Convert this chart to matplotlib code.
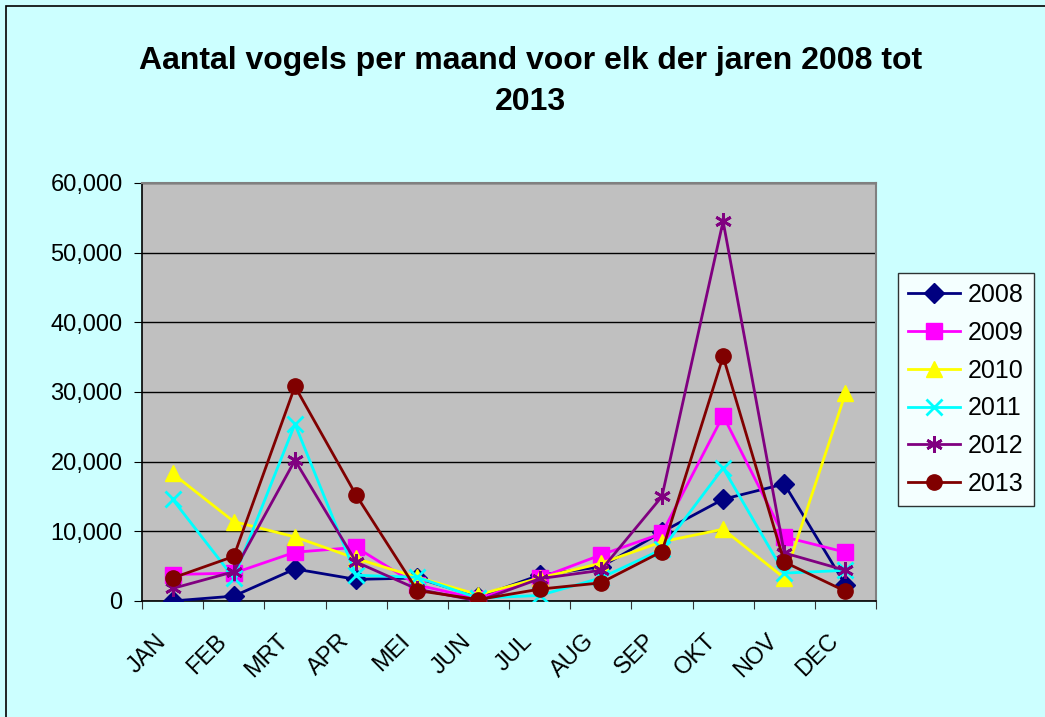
import numpy as np
import matplotlib.pyplot as plt
from matplotlib.ticker import FuncFormatter, FixedLocator
from matplotlib.patches import Rectangle
from matplotlib.transforms import ScaledTranslation

maanden = ['JAN', 'FEB', 'MRT', 'APR', 'MEI', 'JUN', 'JUL', 'AUG', 'SEP', 'OKT', 'NOV', 'DEC']
jaren = ['2008', '2009', '2010', '2011', '2012', '2013']

v2008 = [0, 700, 4600, 3100, 3300, 600, 3700, 4900, 9900, 14600, 16800, 2300]
v2009 = [3800, 4000, 7000, 7700, 2300, 300, 3300, 6600, 9700, 26600, 9200, 7000]
v2010 = [18300, 11400, 9200, 6100, 3400, 900, 3300, 5400, 8500, 10300, 3300, 29800]
v2011 = [14600, 3300, 25400, 3700, 3400, 400, 800, 3300, 7400, 19100, 4000, 4400]
v2012 = [1800, 4200, 20200, 5600, 1700, 0, 3200, 4400, 15000, 54500, 6900, 4400]
v2013 = [3300, 6400, 30800, 15200, 1500, 200, 1700, 2600, 7100, 35100, 5600, 1400]

reeksen = [v2008, v2009, v2010, v2011, v2012, v2013]
kleuren = ['#000080', '#FF00FF', '#FFFF00', '#00FFFF', '#800080', '#800000']
markers = ['D', 's', '^', 'x', (6, 2, 0), 'o']
msizes = [10, 11, 11, 11, 12, 11]

plt.rcParams['font.family'] = ['Liberation Sans', 'DejaVu Sans']

fig = plt.figure(figsize=(10.45, 7.17), dpi=100, facecolor='#CCFFFF')
fig.patches.append(Rectangle((0.006, -0.01), 1.2, 1.002, transform=fig.transFigure,
                             fill=False, edgecolor='black', linewidth=1.2))
ax = fig.add_axes([0.1359, 0.1618, 0.7024, 0.583])
ax.set_facecolor('#C0C0C0')

x = np.arange(len(maanden))
for jaar, vals, c, m, ms in zip(jaren, reeksen, kleuren, markers, msizes):
    ax.plot(x, vals, color=c, linewidth=2, marker=m, markersize=ms,
            markeredgecolor=c, markerfacecolor=c, markeredgewidth=2 if m in ('x', (6, 2, 0)) else 1,
            label=jaar, zorder=3)

ax.set_xlim(-0.5, 11.5)
ax.set_ylim(0, 60000)
ax.set_yticks(np.arange(0, 60001, 10000))
ax.yaxis.set_major_formatter(FuncFormatter(lambda v, p: f'{int(v):,}'))
ax.yaxis.grid(True, color='black', linewidth=1)
ax.set_axisbelow(True)

ax.xaxis.set_major_locator(FixedLocator(np.arange(-0.5, 12, 1)))
ax.xaxis.set_major_formatter(plt.NullFormatter())
ax.xaxis.set_minor_locator(FixedLocator(x))
ax.set_xticklabels(maanden, minor=True, rotation=45, ha='right', rotation_mode='anchor', fontsize=17)
ax.tick_params(axis='x', which='minor', length=0, pad=21)
ax.tick_params(axis='x', which='major', length=6, direction='out', color='#333333')
ax.tick_params(axis='y', length=6, direction='out', labelsize=17, pad=8)
verschuif = ScaledTranslation(-18 / 100, 0, fig.dpi_scale_trans)
for lab in ax.get_xticklabels(minor=True):
    lab.set_transform(lab.get_transform() + verschuif)

ax.spines['top'].set_color('#808080')
ax.spines['right'].set_color('#808080')
ax.spines['top'].set_linewidth(1.5)
ax.spines['right'].set_linewidth(1.5)
ax.spines['left'].set_linewidth(1.2)
ax.spines['bottom'].set_linewidth(1.2)

fig.text(0.508, 0.915, 'Aantal vogels per maand voor elk der jaren 2008 tot', ha='center', va='center',
         fontsize=23, fontweight='bold')
fig.text(0.508, 0.858, '2013', ha='center', va='center', fontsize=23, fontweight='bold')

leg = fig.legend(loc='upper left', bbox_to_anchor=(0.859, 0.619), fontsize=18, frameon=True,
                 fancybox=False, edgecolor='black', facecolor='white', handlelength=2.1,
                 borderpad=0.4, labelspacing=0.55, handletextpad=0.3, borderaxespad=0)
leg.get_frame().set_linewidth(1)

fig.savefig('out.png', dpi=100, facecolor=fig.get_facecolor())
